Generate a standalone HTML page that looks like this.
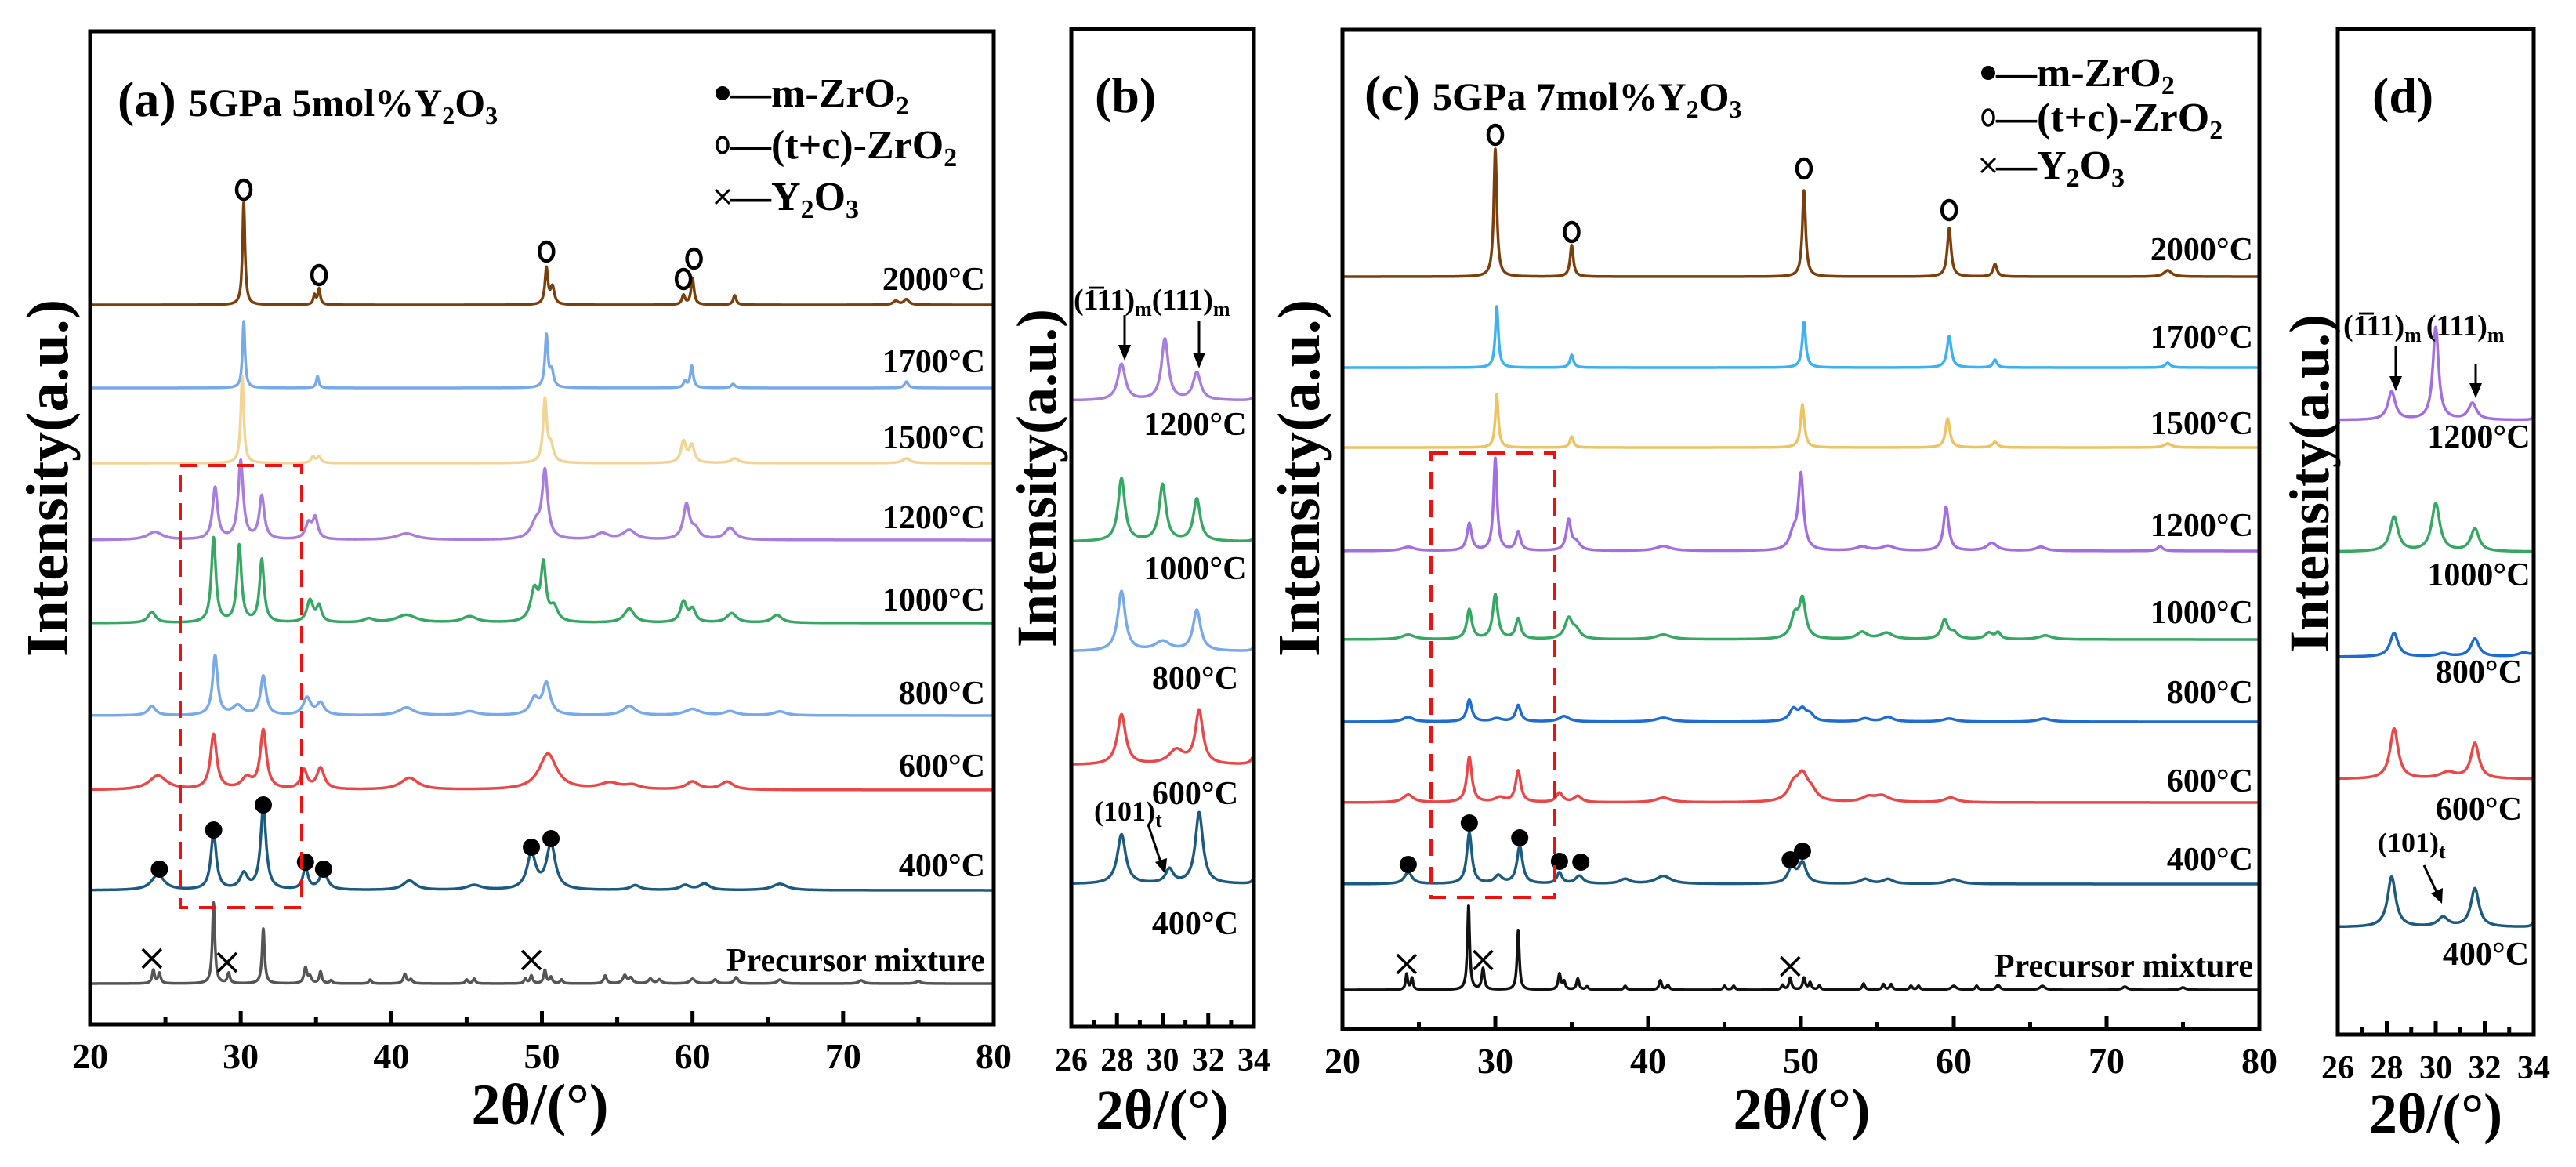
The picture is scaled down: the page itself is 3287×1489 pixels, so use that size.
<!DOCTYPE html>
<html><head><meta charset="utf-8">
<style>
html,body{margin:0;padding:0;background:#fff;}
svg{display:block;font-family:"Liberation Serif",serif;font-weight:bold;}
</style></head>
<body>
<svg id="fig" width="3287" height="1489" viewBox="0 0 3287 1489" xmlns="http://www.w3.org/2000/svg">
<rect x="0" y="0" width="3287" height="1489" fill="#fff"/>
<g id="plots"></g>

<!-- frames -->
<rect x="115" y="40" width="1153" height="1267" fill="none" stroke="#000" stroke-width="5"/>
<rect x="1367" y="37" width="233" height="1273" fill="none" stroke="#000" stroke-width="5"/>
<rect x="1713" y="38" width="1170" height="1275" fill="none" stroke="#000" stroke-width="5"/>
<rect x="2983" y="37" width="250" height="1283" fill="none" stroke="#000" stroke-width="5"/>

<!-- y axis titles -->
<text x="0" y="0" transform="translate(86,610) rotate(-90)" text-anchor="middle" font-size="76">Intensity(a.u.)</text>
<text x="0" y="0" transform="translate(1347,610) rotate(-90)" text-anchor="middle" font-size="72">Intensity(a.u.)</text>
<text x="0" y="0" transform="translate(1683,610) rotate(-90)" text-anchor="middle" font-size="76">Intensity(a.u.)</text>
<text x="0" y="0" transform="translate(2971,617) rotate(-90)" text-anchor="middle" font-size="72">Intensity(a.u.)</text>

<!-- x axis titles -->
<text x="689" y="1434" text-anchor="middle" font-size="74">2θ/(°)</text>
<text x="1483" y="1440" text-anchor="middle" font-size="72">2θ/(°)</text>
<text x="2299" y="1440" text-anchor="middle" font-size="74">2θ/(°)</text>
<text x="3108" y="1445" text-anchor="middle" font-size="72">2θ/(°)</text>

<!-- panel titles -->
<text x="150" y="148" font-size="64">(a) <tspan font-size="50">5GPa 5mol%Y<tspan font-size="32" dy="10">2</tspan><tspan dy="-10">O</tspan><tspan font-size="32" dy="10">3</tspan></tspan></text>
<text x="1397" y="143" font-size="64">(b)</text>
<text x="1741" y="140" font-size="64">(c) <tspan font-size="50">5GPa 7mol%Y<tspan font-size="32" dy="10">2</tspan><tspan dy="-10">O</tspan><tspan font-size="32" dy="10">3</tspan></tspan></text>
<text x="3027" y="143" font-size="64">(d)</text>

<!-- legends -->
<g>
  <circle cx="922" cy="119" r="9" fill="#000"/>
  <text x="932" y="136" font-size="52">—m-ZrO<tspan font-size="34" dy="10">2</tspan></text>
  <ellipse cx="922" cy="185" rx="7" ry="10" fill="none" stroke="#000" stroke-width="3.5"/>
  <text x="932" y="202" font-size="52">—(t+c)-ZrO<tspan font-size="34" dy="10">2</tspan></text>
  <path d="M913 242 L931 260 M931 242 L913 260" stroke="#000" stroke-width="3"/>
  <text x="932" y="268" font-size="52">—Y<tspan font-size="34" dy="10">2</tspan><tspan dy="-10">O</tspan><tspan font-size="34" dy="10">3</tspan></text>
</g>
<g>
  <circle cx="2537" cy="93" r="9" fill="#000"/>
  <text x="2547" y="110" font-size="52">—m-ZrO<tspan font-size="34" dy="10">2</tspan></text>
  <ellipse cx="2537" cy="150" rx="7" ry="10" fill="none" stroke="#000" stroke-width="3.5"/>
  <text x="2547" y="167" font-size="52">—(t+c)-ZrO<tspan font-size="34" dy="10">2</tspan></text>
  <path d="M2528 202 L2546 220 M2546 202 L2528 220" stroke="#000" stroke-width="3"/>
  <text x="2547" y="228" font-size="52">—Y<tspan font-size="34" dy="10">2</tspan><tspan dy="-10">O</tspan><tspan font-size="34" dy="10">3</tspan></text>
</g>

<!-- temperature labels panel a -->
<g font-size="42" text-anchor="end">
<text x="1257" y="370">2000°C</text>
<text x="1257" y="475">1700°C</text>
<text x="1257" y="572">1500°C</text>
<text x="1257" y="674">1200°C</text>
<text x="1257" y="779">1000°C</text>
<text x="1257" y="898">800°C</text>
<text x="1257" y="991">600°C</text>
<text x="1257" y="1118">400°C</text>
<text x="1257" y="1239">Precursor mixture</text>
</g>
<g font-size="42" text-anchor="middle">
<text x="1525" y="555">1200°C</text>
<text x="1525" y="739">1000°C</text>
<text x="1525" y="879">800°C</text>
<text x="1525" y="1026">600°C</text>
<text x="1525" y="1192">400°C</text>
</g>
<g font-size="42" text-anchor="end">
<text x="2875" y="332">2000°C</text>
<text x="2875" y="444">1700°C</text>
<text x="2875" y="554">1500°C</text>
<text x="2875" y="684">1200°C</text>
<text x="2875" y="795">1000°C</text>
<text x="2875" y="897">800°C</text>
<text x="2875" y="1010">600°C</text>
<text x="2875" y="1110">400°C</text>
<text x="2875" y="1246">Precursor mixture</text>
</g>
<g font-size="42" text-anchor="middle">
<text x="3163" y="571">1200°C</text>
<text x="3163" y="747">1000°C</text>
<text x="3163" y="871">800°C</text>
<text x="3163" y="1046">600°C</text>
<text x="3172" y="1231">400°C</text>
</g>

<!-- annotations b -->
<text x="1370" y="395" font-size="38">(1&#x0305;11)<tspan font-size="26" dy="8">m</tspan><tspan dy="-8">(111)</tspan><tspan font-size="26" dy="8">m</tspan></text>
<path d="M1435 402 L1435 444" stroke="#000" stroke-width="3"/>
<path d="M1427 440 L1443 440 L1435 460 Z" fill="#000"/>
<path d="M1530 410 L1530 452" stroke="#000" stroke-width="3"/>
<path d="M1522 450 L1538 450 L1530 470 Z" fill="#000"/>
<text x="1396" y="1047" font-size="36">(101)<tspan font-size="26" dy="8">t</tspan></text>
<path d="M1465 1052 L1481 1100" stroke="#000" stroke-width="3"/>
<path d="M1474 1100 L1489 1095 L1487 1115 Z" fill="#000"/>

<!-- annotations d -->
<text x="2990" y="428" font-size="38">(1&#x0305;11)<tspan font-size="26" dy="8">m</tspan><tspan dy="-8" dx="6">(111)</tspan><tspan font-size="26" dy="8">m</tspan></text>
<path d="M3057 441 L3057 482" stroke="#000" stroke-width="3"/>
<path d="M3049 480 L3065 480 L3057 499 Z" fill="#000"/>
<path d="M3159 464 L3159 490" stroke="#000" stroke-width="3"/>
<path d="M3151 489 L3167 489 L3159 508 Z" fill="#000"/>
<text x="3034" y="1087" font-size="36">(101)<tspan font-size="26" dy="8">t</tspan></text>
<path d="M3093 1104 L3109 1138" stroke="#000" stroke-width="3"/>
<path d="M3102 1140 L3117 1133 L3116 1153 Z" fill="#000"/>

<!-- red dashed boxes -->
<rect x="230" y="594" width="155" height="564" fill="none" stroke="#ee1111" stroke-width="4" stroke-dasharray="22,14"/>
<rect x="1826" y="578" width="158" height="567" fill="none" stroke="#ee1111" stroke-width="4" stroke-dasharray="22,14"/>

<g id="ticks"></g>
</svg>

<script>
// ---------- data (peak lists: [2θ, height a.u., half-width °]) ----------
const panelATemps = ["2000","1700","1500","1200","1000","800","600","400","precursor"];
const panelAOffsets = [918,812,716,618,512,394,299,171,52];
const panelAColors = ["#7b3f0c","#78a9e8","#f2d596","#a87ddc","#37a864","#78a9e8","#e84848","#1c5a80","#555555"];
const a2000 = [[30.2,131,.1],[34.9,12,.1],[35.2,20,.1],[50.3,46,.12],[50.7,22,.15],[59.4,12,.12],[60.0,34,.12],[62.8,12,.12],[73.5,5,.2],[74.2,7,.2]];
const a1700 = [[30.2,85,.1],[35.1,15,.1],[50.3,66,.12],[50.65,20,.15],[59.5,8,.12],[59.95,28,.12],[62.7,5,.15],[74.2,8,.15]];
const a1500 = [[30.1,111,.12],[34.8,8,.15],[35.2,8,.15],[50.2,80,.15],[50.6,20,.2],[59.4,27,.2],[59.95,22,.2],[62.8,6,.3],[74.2,6,.3]];
const a1200 = [[24.3,10,.6],[28.3,66,.2],[30.0,100,.2],[31.4,55,.2],[34.5,20,.25],[34.95,26,.2],[41,8,.8],[49.6,20,.4],[50.2,85,.22],[54,8,.5],[55.8,12,.5],[59.6,44,.25],[60.2,12,.3],[62.5,15,.4]];
const a1000 = [[24.1,14,.3],[28.2,108,.18],[29.9,98,.18],[31.4,80,.18],[34.6,28,.25],[35.2,20,.2],[38.5,5,.4],[41,10,.8],[45.2,8,.6],[49.5,40,.3],[50.1,70,.2],[50.8,18,.3],[55.8,18,.4],[59.4,26,.25],[60,16,.25],[62.6,12,.4],[65.6,10,.4]];
const a800 = [[24.1,12,.3],[28.3,76,.2],[29.8,12,.4],[31.5,50,.22],[34.4,22,.3],[35.3,15,.3],[41,10,.6],[45.2,5,.6],[49.5,20,.35],[50.3,40,.3],[55.8,12,.5],[60,8,.6],[62.5,5,.5],[65.8,5,.5]];
const a600 = [[24.5,18,.7],[28.2,70,.25],[30.4,14,.4],[31.5,75,.25],[34.2,24,.25],[35.3,27,.3],[41.2,15,.7],[50.4,46,.7],[54.5,8,.8],[56,5,.6],[60,10,.5],[62.3,10,.5]];
const a400 = [[24.5,20,.5],[28.2,72,.22],[30.2,20,.3],[31.5,105,.22],[34.3,28,.2],[35.5,24,.3],[41.2,12,.5],[45.5,6,.6],[49.3,45,.35],[50.6,58,.35],[56.2,6,.4],[59.5,6,.4],[60.8,8,.4],[65.8,8,.6]];
const aPre = [[24.2,17,.1],[24.6,13,.1],[28.2,103,.1],[29.2,13,.1],[31.5,70,.1],[34.3,20,.12],[34.6,8,.12],[35.3,15,.1],[36,4,.1],[38.6,5,.1],[40.9,12,.12],[41.3,5,.12],[45,5,.1],[45.5,6,.1],[48.9,6,.1],[49.3,10,.1],[50.2,17,.1],[50.6,8,.1],[51.3,5,.1],[54.2,10,.12],[55.5,10,.15],[55.9,7,.15],[57.2,6,.15],[57.8,5,.15],[60,6,.2],[61.5,5,.15],[62.9,8,.15],[65.8,5,.2],[71.2,4,.2],[75,3,.2]];
const panelAPeaks = [a2000,a1700,a1500,a1200,a1000,a800,a600,a400,aPre];

const panelBTemps = ["1200","1000","800","600","400"];
const panelBOffsets = [799,619,479,334,182];
const panelBColors = ["#a87ddc","#37a864","#78a9e8","#e84848","#1c5a80"];
const b1200 = [[28.2,46,.2],[30.1,78,.18],[31.5,35,.2],[34.05,8,.1]];
const b1000 = [[28.2,80,.18],[30.0,72,.18],[31.5,54,.18],[34.05,6,.1]];
const b800 = [[28.2,76,.2],[30.0,12,.4],[31.5,52,.2],[34.05,8,.1]];
const b600 = [[28.2,64,.22],[30.6,18,.4],[31.6,68,.2],[34.1,26,.12]];
const b400 = [[28.2,63,.22],[30.3,18,.2],[31.6,91,.2],[34.05,10,.1]];
const panelBPeaks = [b1200,b1000,b800,b600,b400];

const panelCTemps = ["2000","1700","1500","1200","1000","800","600","400","precursor"];
const panelCOffsets = [960,844,742,610,497,392,289,185,50];
const panelCColors = ["#7b3f0c","#3db2f0","#ecc464","#a26ee0","#37a864","#1f6bd0","#e84848","#1c5a80","#111111"];
const c2000 = [[30.0,163,.12],[35.0,40,.13],[50.2,110,.13],[59.7,62,.15],[62.7,16,.15],[74,8,.3]];
const c1700 = [[30.1,78,.12],[35,16,.14],[50.2,58,.14],[59.7,40,.17],[62.7,10,.15],[74,6,.2]];
const c1500 = [[30.1,68,.12],[35,14,.14],[50.1,55,.15],[59.6,37,.17],[62.7,7,.2],[74,5,.3]];
const c1200 = [[24.3,5,.5],[28.3,35,.18],[30.0,118,.14],[31.5,24,.18],[34.8,38,.18],[35.3,10,.3],[41,6,.6],[49.5,20,.3],[50.0,95,.2],[54,5,.5],[55.7,6,.5],[59.5,56,.2],[62.5,10,.4],[65.7,5,.4],[73.5,6,.2]];
const c1000 = [[24.3,6,.5],[28.3,38,.2],[30.0,57,.2],[31.5,26,.2],[34.8,26,.3],[35.3,10,.3],[41,6,.6],[49.6,28,.3],[50.1,48,.25],[54,9,.4],[55.6,8,.5],[59.4,24,.25],[60,8,.3],[62.3,8,.3],[62.9,8,.2],[66,5,.5]];
const c800 = [[24.3,6,.4],[28.3,28,.2],[30.1,4,.4],[31.5,21,.2],[34.5,7,.4],[41,5,.6],[49.5,15,.3],[50.1,14,.3],[50.6,8,.3],[54.2,4,.4],[55.7,6,.4],[59.7,4,.5],[65.9,4,.5]];
const c600 = [[24.3,10,.4],[28.3,58,.2],[30.3,6,.4],[31.5,40,.2],[34.2,12,.25],[35.4,8,.3],[41,6,.6],[49.5,18,.4],[50.1,32,.45],[50.7,10,.4],[54.4,6,.5],[55.3,8,.6],[59.8,6,.5]];
const c400 = [[24.3,15,.3],[28.3,65,.2],[30.2,10,.3],[31.6,48,.22],[34.2,14,.2],[35.5,10,.3],[38.5,6,.4],[41,10,.6],[49.4,20,.3],[50.1,26,.3],[54.2,6,.4],[55.7,6,.4],[60,6,.5]];
const cPre = [[24.2,20,.08],[24.55,15,.08],[28.25,108,.09],[29.2,27,.1],[31.5,76,.09],[34.2,20,.1],[34.5,10,.1],[35.4,14,.1],[36,4,.1],[38.5,5,.1],[40.8,12,.1],[41.3,6,.1],[45,5,.1],[45.6,5,.1],[48.8,6,.1],[49.3,15,.1],[50.2,15,.1],[50.6,9,.1],[51.2,5,.1],[54.1,8,.1],[55.4,7,.1],[55.9,7,.1],[57.2,5,.1],[57.7,5,.1],[60,5,.2],[61.5,5,.1],[62.9,6,.15],[65.8,5,.2],[71.2,4,.2],[75,3,.2]];
const panelCPeaks = [c2000,c1700,c1500,c1200,c1000,c800,c600,c400,cPre];

const panelDTemps = ["1200","1000","800","600","400"];
const panelDOffsets = [784,616,482,326,137];
const panelDColors = ["#a26ee0","#37a864","#1f6bd0","#e84848","#1c5a80"];
const d1200 = [[28.2,36,.18],[30.0,118,.14],[31.5,21,.2],[34.05,5,.1]];
const d1000 = [[28.3,44,.2],[30.0,61,.2],[31.6,29,.2]];
const d800 = [[28.3,30,.2],[30.3,4,.3],[31.6,23,.2],[33.6,5,.3],[34.05,5,.1]];
const d600 = [[28.3,64,.2],[30.5,8,.4],[31.6,45,.2]];
const d400 = [[28.2,64,.2],[30.3,12,.25],[31.6,49,.2],[34.05,8,.1]];
const panelDPeaks = [d1200,d1000,d800,d600,d400];

// phase markers: [2θ, a.u. above panel bottom]
const aOpenMarkers = [[30.2,1065],[35.2,956],[50.3,986],[59.4,951],[60.1,977]];
const aDotMarkers = [[24.6,198],[28.2,248],[31.5,280],[34.3,207],[35.5,198],[49.3,226],[50.6,237]];
const aCrossMarkers = [[24.1,84],[29.1,79],[49.3,82]];
const cOpenMarkers = [[30.0,1141],[35.0,1017],[50.2,1098],[59.7,1045]];
const cDotMarkers = [[24.3,210],[28.3,263],[31.6,244],[34.2,214],[35.6,213],[49.3,216],[50.1,227]];
const cCrossMarkers = [[24.2,83],[29.2,88],[49.3,80]];

const aTicks = [20,30,40,50,60,70,80];
const bTicks = [26,28,30,32,34];

// ---------- scales ----------
const NS = "http://www.w3.org/2000/svg";
const panels = {
  a:{x0:115,x1:1268,t0:20,t1:80,bottom:1307},
  b:{x0:1367,x1:1600,t0:26,t1:34,bottom:1310},
  c:{x0:1713,x1:2883,t0:20,t1:80,bottom:1313},
  d:{x0:2983,x1:3233,t0:26,t1:34,bottom:1320}
};
function xs(p,t){return p.x0+(t-p.t0)/(p.t1-p.t0)*(p.x1-p.x0);}
function ys(p,v){return p.bottom-v;}
function intensity(peaks,t){let s=0;for(const [c,h,w] of peaks){const u=(t-c)/w;s+=h/(1+u*u);}return s;}

const plots=document.getElementById('plots');
const tickLayer=document.getElementById('ticks');

function drawSeries(key,temps,offsets,colors,peaksList,step){
  const p=panels[key];
  for(let i=0;i<temps.length;i++){
    let d="";
    for(let t=p.t0;t<=p.t1+1e-9;t+=step){
      const v=offsets[i]+intensity(peaksList[i],t);
      d+=(d?"L":"M")+xs(p,t).toFixed(1)+" "+ys(p,v).toFixed(1);
    }
    const path=document.createElementNS(NS,'path');
    path.setAttribute('d',d);
    path.setAttribute('fill','none');
    path.setAttribute('stroke',colors[i]);
    path.setAttribute('stroke-width','3.5');
    path.setAttribute('stroke-linejoin','round');
    
    
    plots.appendChild(path);
  }
}
drawSeries('a',panelATemps,panelAOffsets,panelAColors,panelAPeaks,0.02);
drawSeries('b',panelBTemps,panelBOffsets,panelBColors,panelBPeaks,0.01);
drawSeries('c',panelCTemps,panelCOffsets,panelCColors,panelCPeaks,0.02);
drawSeries('d',panelDTemps,panelDOffsets,panelDColors,panelDPeaks,0.01);

function drawMarkers(key,opens,dots,crosses){
  const p=panels[key];
  for(const [t,v] of opens){
    const e=document.createElementNS(NS,'ellipse');
    e.setAttribute('cx',xs(p,t));e.setAttribute('cy',ys(p,v));
    e.setAttribute('rx','9');e.setAttribute('ry','12');
    e.setAttribute('fill','none');e.setAttribute('stroke','#000');e.setAttribute('stroke-width','4.5');
    
    
    plots.appendChild(e);
  }
  for(const [t,v] of dots){
    const c=document.createElementNS(NS,'circle');
    c.setAttribute('cx',xs(p,t));c.setAttribute('cy',ys(p,v));c.setAttribute('r','11');
    c.setAttribute('fill','#000');
    
    
    plots.appendChild(c);
  }
  for(const [t,v] of crosses){
    const x=xs(p,t),y=ys(p,v);
    const c=document.createElementNS(NS,'path');
    c.setAttribute('d',`M${x-12} ${y-12}L${x+12} ${y+12}M${x+12} ${y-12}L${x-12} ${y+12}`);
    c.setAttribute('stroke','#000');c.setAttribute('stroke-width','3.5');
    
    
    plots.appendChild(c);
  }
}
drawMarkers('a',aOpenMarkers,aDotMarkers,aCrossMarkers);
drawMarkers('c',cOpenMarkers,cDotMarkers,cCrossMarkers);

function drawTicks(key,labels,minorStep,majorStep,fontSize,labelY){
  const p=panels[key];
  for(let t=p.t0+minorStep;t<p.t1-1e-9;t+=minorStep){
    const isMajor=Math.abs(((t-p.t0)/majorStep)-Math.round((t-p.t0)/majorStep))<1e-6;
    const len=isMajor?17:9;
    const x=xs(p,t);
    const l=document.createElementNS(NS,'line');
    l.setAttribute('x1',x);l.setAttribute('x2',x);
    l.setAttribute('y1',p.bottom);l.setAttribute('y2',p.bottom-len);
    l.setAttribute('stroke','#000');l.setAttribute('stroke-width','5');
    
    
    tickLayer.appendChild(l);
  }
  for(const v of labels){
    const tx=document.createElementNS(NS,'text');
    tx.setAttribute('x',xs(p,v));tx.setAttribute('y',labelY);
    tx.setAttribute('text-anchor','middle');tx.setAttribute('font-size',fontSize);
    
    
    tx.textContent=v;
    tickLayer.appendChild(tx);
  }
}
drawTicks('a',aTicks,5,10,46,1363);
drawTicks('b',bTicks,1,2,42,1366);
drawTicks('c',aTicks,5,10,46,1369);
drawTicks('d',bTicks,1,2,42,1376);
</script>
</body></html>
